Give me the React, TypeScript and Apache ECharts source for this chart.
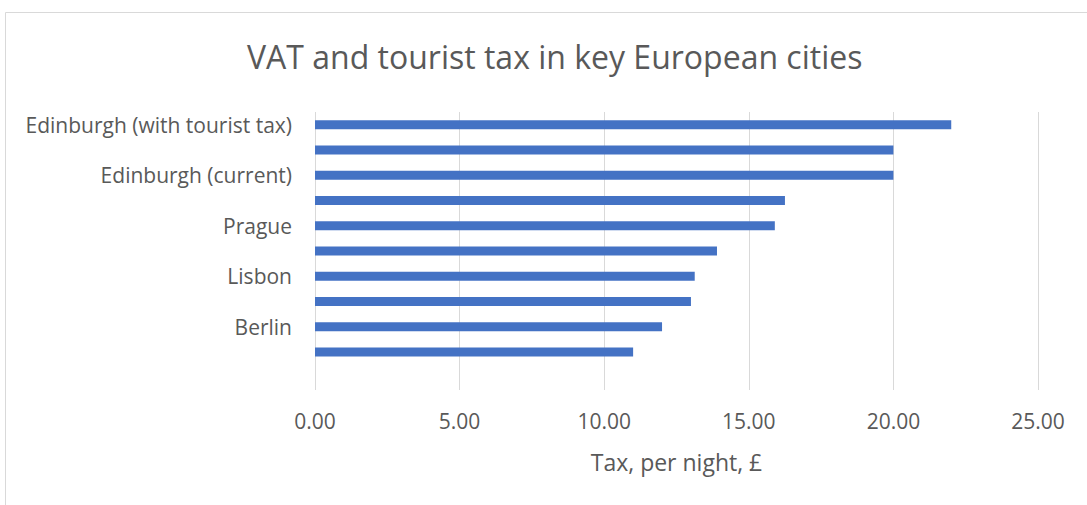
import React, { useEffect, useRef } from "react";
import * as echarts from "echarts";

const categories = [
  "Edinburgh (with tourist tax)",
  "",
  "Edinburgh (current)",
  "",
  "Prague",
  "",
  "Lisbon",
  "",
  "Berlin",
  "",
  "",
];
const taxValues: (number | null)[] = [22, 20, 20, 16.25, 15.9, 13.9, 13.13, 13.0, 12.0, 11.0, null];
const xTicks = [0, 5, 10, 15, 20, 25];

export default function App() {
  const ref = useRef<HTMLDivElement>(null);
  useEffect(() => {
    if (!ref.current) return;
    const chart = echarts.init(ref.current, undefined, { renderer: "svg" });
    chart.setOption({
      animation: false,
      backgroundColor: "#ffffff",
      title: {
        text: "VAT and tourist tax in key European cities",
        left: 242,
        top: 35,
        textStyle: { fontFamily: "Open Sans", fontSize: 32, fontWeight: "normal", color: "#595959" },
      },
      graphic: [
        {
          type: "rect",
          shape: { x: 5.5, y: 12.5, width: 1100, height: 520 },
          style: { fill: "none", stroke: "#d9d9d9", lineWidth: 1 },
          silent: true,
        },
      ],
      grid: { left: 315, right: 49, top: 112, bottom: 115 },
      xAxis: {
        type: "value",
        min: xTicks[0],
        max: xTicks[xTicks.length - 1],
        interval: 5,
        name: "Tax, per night, £",
        nameLocation: "middle",
        nameGap: 60,
        nameTextStyle: { fontFamily: "Open Sans", fontSize: 23, color: "#595959" },
        axisLine: { show: false },
        axisTick: { show: false },
        axisLabel: {
          fontFamily: "Open Sans",
          fontSize: 21,
          color: "#595959",
          margin: 20,
          formatter: (v: number) => v.toFixed(2),
        },
        splitLine: { show: true, lineStyle: { color: "#d9d9d9", width: 1 } },
      },
      yAxis: {
        type: "category",
        inverse: true,
        data: categories,
        axisLine: { show: false },
        axisTick: { show: false },
        axisLabel: {
          interval: 1,
          fontFamily: "Open Sans",
          fontSize: 21,
          color: "#595959",
          margin: 23,
        },
      },
      series: [
        {
          type: "bar",
          data: taxValues,
          barWidth: 9,
          itemStyle: { color: "#4472C4" },
        },
      ],
    });
    return () => chart.dispose();
  }, []);
  return (
    <div
      ref={ref}
      style={{ position: "fixed", left: 0, top: 0, width: 1087, height: 505 }}
    />
  );
}
